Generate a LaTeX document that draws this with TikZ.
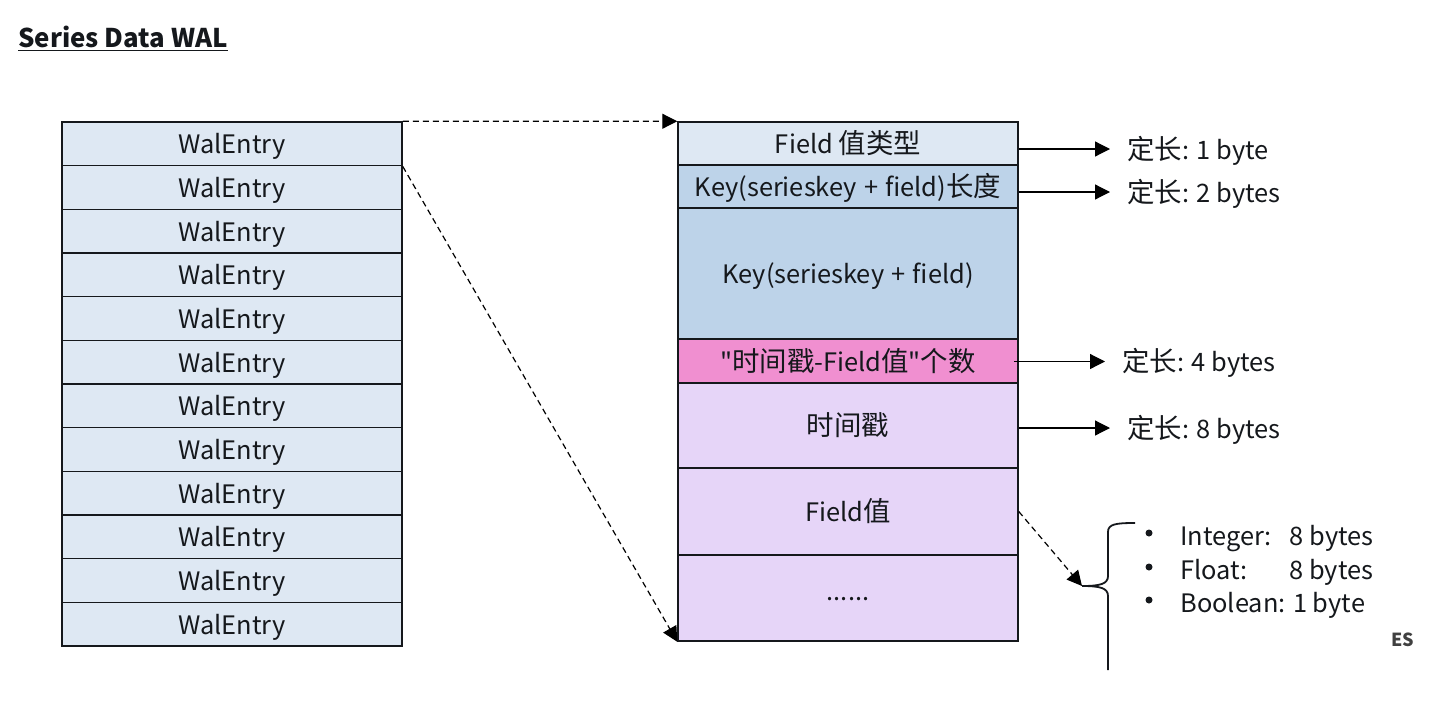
\documentclass[tikz,border=0pt]{standalone}
\usepackage{fontspec}
\newfontfamily\latinfont{Noto Sans CJK SC}
\newfontfamily\hanfont[Scale=1.08]{Noto Sans CJK SC}
\usetikzlibrary{arrows.meta}
\definecolor{entryblue}{HTML}{DEE8F3}
\definecolor{keyblue}{HTML}{BDD3E9}
\definecolor{countpink}{HTML}{F08FD0}
\definecolor{valuelilac}{HTML}{E6D5F8}
\definecolor{inkline}{HTML}{15181C}
\tikzset{
	cellbox/.style={draw=inkline, line width=0.75pt, minimum width=170pt, inner sep=0pt, font=\fontsize{12.7}{16}\latinfont, text=inkline, text height=11.5pt, text depth=1.5pt},
	sizelabel/.style={anchor=west, inner ysep=0pt, inner xsep=8.5pt, font=\fontsize{12.7}{16}\latinfont, text=inkline, text height=11.5pt, text depth=1.5pt},
	itemlabel/.style={anchor=west, inner sep=0pt, font=\fontsize{12.7}{16}\latinfont, text=inkline},
	itemdot/.style={circle, fill=inkline, inner sep=0pt, minimum size=3.5pt},
	sizearrow/.style={draw=black, line width=0.6pt, -{Triangle[length=7.5pt,width=7.5pt]}},
	linkarrow/.style={draw=black, line width=0.6pt, densely dashed, -{Triangle[length=7.5pt,width=7.5pt]}},
}

\begin{document}
\begin{tikzpicture}[x=0.5pt, y=-0.5pt]
	%%%%% START %%%%%
	\useasboundingbox (0, 0) rectangle (1440, 707);

	\node[anchor=west, inner sep=0pt, font=\fontsize{12.9}{16}\latinfont\bfseries, text=inkline] (title) at (18, 39) {\underline{Series Data WAL}};

	% left column of entries
	\foreach \i in {1,...,12} {
		\node[cellbox, fill=entryblue, minimum height=21.83pt] (entry\i) at (232, {122+(\i-0.5)*43.67}) {WalEntry};
	}

	% right column, one entry taken apart
	\node[cellbox, fill=entryblue, minimum height=21.5pt] (fieldtype) at (848, 143.5) {Field {\hanfont 值类型}};
	\node[cellbox, fill=keyblue, minimum height=21.5pt] (keylength) at (848, 186.5) {Key(serieskey\hspace{3.6pt}+\hspace{3.6pt}field){\hanfont 长度}};
	\node[cellbox, fill=keyblue, minimum height=65.5pt] (keybody) at (848, 273.5) {Key(serieskey\hspace{3.6pt}+\hspace{3.6pt}field)};
	\node[cellbox, fill=countpink, minimum height=22pt] (paircount) at (848, 361) {"{\hanfont 时间戳}-Field{\hanfont 值}"{\hanfont 个数}};
	\node[cellbox, fill=valuelilac, minimum height=42.5pt] (stamp) at (848, 425.5) {{\hanfont 时间戳}};
	\node[cellbox, fill=valuelilac, minimum height=43.5pt] (fieldvalue) at (848, 511.5) {Field{\hanfont 值}};
	\node[cellbox, fill=valuelilac, minimum height=43pt, text depth=9.5pt] (more) at (848, 598) {......};

	\draw[linkarrow] (entry1.north east) -- (fieldtype.north west);
	\draw[linkarrow] (entry1.south east) -- (more.south west);

	% fixed sizes
	\node[sizelabel] (sizeone) at (1110, 149) {{\hanfont 定长}: 1 byte};
	\node[sizelabel] (sizetwo) at (1110, 192) {{\hanfont 定长}: 2 bytes};
	\node[sizelabel] (sizefour) at (1105, 361.5) {{\hanfont 定长}: 4 bytes};
	\node[sizelabel] (sizeeight) at (1110, 428) {{\hanfont 定长}: 8 bytes};

	\draw[sizearrow] (fieldtype.east |- sizeone.west) -- (sizeone.west);
	\draw[sizearrow] (keylength.east |- sizetwo.west) -- (sizetwo.west);
	\draw[sizearrow] ([xshift=-2.5pt]paircount.east |- sizefour.west) -- (sizefour.west);
	\draw[sizearrow] (stamp.east |- sizeeight.west) -- (sizeeight.west);

	% brace with the value types
	\coordinate (bracetip) at (1082, 586);
	\draw[line width=0.9pt, color=inkline] (1135, 523) .. controls (1116, 523) and (1108, 524) .. (1108, 532) -- (1108, 576) .. controls (1108, 584) and (1100, 586) .. (bracetip) .. controls (1100, 586) and (1108, 588) .. (1108, 596) -- (1108, 670);
	\draw[linkarrow] (fieldvalue.east) -- (bracetip);

	\node[itemdot] (bulletint) at (1149, 533) {};
	\node[itemdot] (bulletfloat) at (1149, 567) {};
	\node[itemdot] (bulletbool) at (1149, 600) {};
	\node[itemlabel] (itemint) at (1180, 539) {Integer:\hspace{9pt}8 bytes};
	\node[itemlabel] (itemfloat) at (1180, 572) {Float:\hspace{21pt}8 bytes};
	\node[itemlabel] (itembool) at (1180, 605) {Boolean: 1 byte};

	\node[inner sep=0pt, font=\fontsize{9}{10}\latinfont\bfseries, text=black!75] (mark) at (1403, 640) {ES};
	%%%%% END %%%%%
\end{tikzpicture}
\end{document}
